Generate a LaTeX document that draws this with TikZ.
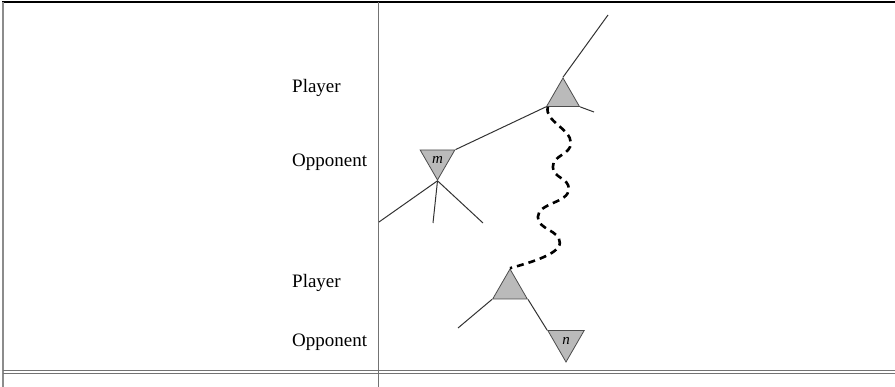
\documentclass[tikz,border=0pt]{standalone}
\usepackage{fontspec}
\setmainfont{Liberation Serif}
\usetikzlibrary{positioning, shapes.geometric, calc}

\begin{document}
\begin{tikzpicture}[
  x=1pt, y=-1pt,
  player/.style={regular polygon, regular polygon sides=3, draw=black!70, fill=black!27,
    line width=0.8pt, minimum size=40pt, inner sep=0pt},
  opponent/.style={player, shape border rotate=180, font=\fontsize{15}{15}\selectfont\itshape},
  edge/.style={draw=black!80, line width=1pt},
  wave/.style={draw=black, line width=2.6pt, dash pattern=on 7pt off 5pt},
  rule/.style={draw=black!55, line width=1pt},
  role/.style={anchor=base west, inner sep=0pt, font=\fontsize{19}{21}\selectfont}
]
\useasboundingbox (0,0) rectangle (895,387);

% --- table rules ---
\draw[draw=black, line width=1.5pt] (2,2) -- (895,2);
\draw[rule, draw=black!45, line width=1.5pt] (3,2) -- (3,387);
\draw[rule] (378,2) -- (378,387);
\draw[rule, line width=0.8pt] (3,370) -- (895,370);
\draw[rule, line width=0.8pt] (3,373.5) -- (895,373.5);

% --- row labels ---
\node[role] (p1) at (292,93)  {Player};
\node[role] (o1) at (292,167) {Opponent};
\node[role] (p2) at (292,288) {Player};
\node[role] (o2) at (292,347) {Opponent};

% --- tree nodes ---
\node[player, minimum size=38pt] (pu) at (563,97) {};
\node[opponent] (m) at (437.5,160) {m};
\node[player] (pl) at (510,289) {};
\node[opponent, minimum size=42pt] (n) at (566,341) {n};

% free ends
\coordinate (top) at (608,15);
\coordinate (puR) at (594,112);
\coordinate (mL) at (379,222);
\coordinate (mC) at (433,223);
\coordinate (mR) at (483,223);
\coordinate (plL) at (458,328);

% --- edges ---
\draw[edge] (pu.corner 1) -- (top);
\draw[edge] (pu.corner 3) -- (puR);
\draw[edge] (pu.corner 2) -- (m.corner 2);
\draw[edge] (m.corner 1) -- (mL);
\draw[edge] (m.corner 1) -- (mC);
\draw[edge] (m.corner 1) -- (mR);
\draw[edge] (pl.corner 2) -- (plL);
\draw[edge] (pl.corner 3) -- (n.corner 3);

% wavy dashed line between the two player moves
\draw[wave] ([xshift=2pt]pu.corner 2)
  .. controls +(-4,14) and +(0,-14) .. ++(23,36)
  .. controls +(0,12) and +(0,-12) .. ++(-18,24)
  .. controls +(0,11) and +(0,-11) .. ++(16,22)
  .. controls +(0,14) and +(0,-14) .. ++(-31,28)
  .. controls +(0,13) and +(0,-13) .. ++(22,26)
  .. controls +(0,12) and +(14,-4) .. (pl.corner 1);

\end{tikzpicture}
\end{document}
